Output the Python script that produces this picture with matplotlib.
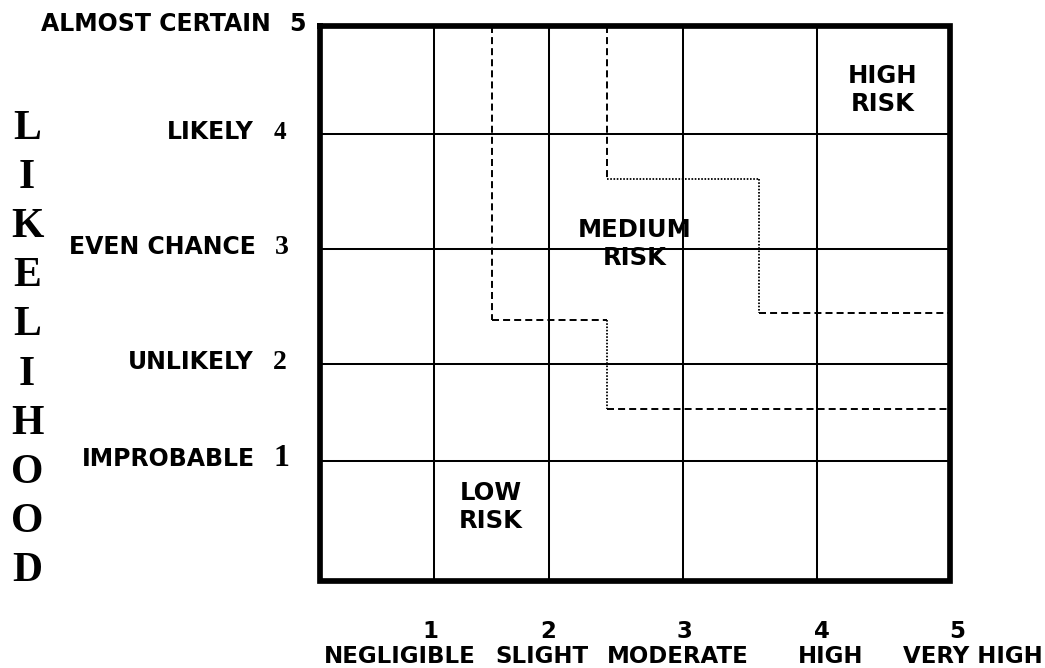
#!/usr/bin/env python3
"""Likelihood / impact risk matrix with low, medium and high risk zones."""

import matplotlib
matplotlib.use('Agg')
import matplotlib.pyplot as plt
import numpy as np

SANS = 'DejaVu Sans'
SERIF = 'Liberation Serif'

# matrix cell edges, drawn on a pixel canvas (x left->right, y top->bottom)
impact_edges = [320, 434, 549, 683, 817, 950]
likelihood_edges = [26, 134, 249, 364, 461, 581]

impact_levels = ['1', '2', '3', '4', '5']
impact_names = ['NEGLIGIBLE', 'SLIGHT', 'MODERATE', 'HIGH', 'VERY HIGH']
impact_level_x = [430, 548, 684, 822, 957]
impact_name_x = [400, 542, 678, 831, 973]

# top to bottom, one per upper edge of each row
likelihood_names = ['ALMOST CERTAIN', 'LIKELY', 'EVEN CHANCE', 'UNLIKELY', 'IMPROBABLE']
likelihood_levels = ['5', '4', '3', '2', '1']
likelihood_level_x = [297, 280, 282, 280, 281]
likelihood_level_size = [17, 18, 20, 20, 23]

axis_title = 'LIKELIHOOD'

# risk zone boundaries: polyline vertices and the style of each segment
low_medium_x = [492, 492, 607, 607, 950]
low_medium_y = [26, 320, 320, 409, 409]
low_medium_styles = ['dash', 'dash', 'dot', 'dash']
medium_high_x = [607, 607, 759, 759, 950]
medium_high_y = [26, 179, 179, 313, 313]
medium_high_styles = ['dash', 'dot', 'dot', 'dash']

zone_labels = ['HIGH\nRISK', 'MEDIUM\nRISK', 'LOW\nRISK']
zone_x = [883, 635, 491]
zone_y = [90, 244, 507]

STYLES = {
    'dash': dict(linewidth=1.4, linestyle=(0, (3.6, 2.1))),
    'dot': dict(linewidth=1.3, linestyle=(0, (0.9, 0.9))),
}


def draw_boundary(ax, xs, ys, styles):
    for i, style in enumerate(styles):
        ax.plot(xs[i:i + 2], ys[i:i + 2], color='black',
                solid_capstyle='butt', dash_capstyle='butt', **STYLES[style])


def main():
    fig = plt.figure(figsize=(10.45, 6.68), dpi=100)
    ax = fig.add_axes([0, 0, 1, 1])
    ax.set_xlim(0, 1045)
    ax.set_ylim(668, 0)
    ax.axis('off')

    left, right = impact_edges[0], impact_edges[-1]
    top, bottom = likelihood_edges[0], likelihood_edges[-1]

    # inner grid
    ax.vlines(impact_edges[1:-1], top, bottom, color='black', linewidth=1.45)
    ax.hlines(likelihood_edges[1:-1], left, right, color='black', linewidth=1.45)

    draw_boundary(ax, low_medium_x, low_medium_y, low_medium_styles)
    draw_boundary(ax, medium_high_x, medium_high_y, medium_high_styles)

    # heavy outer frame
    ax.plot([left, right, right, left, left], [top, top, bottom, bottom, top],
            color='black', linewidth=4.1, solid_joinstyle='miter')

    for label, x, y in zip(zone_labels, zone_x, zone_y):
        ax.text(x, y, label, ha='center', va='center', family=SANS,
                fontweight='bold', fontsize=17.5, linespacing=1.25)

    # likelihood scale on the left
    for name, level, edge, lx, size in zip(likelihood_names, likelihood_levels,
                                           likelihood_edges[:-1], likelihood_level_x,
                                           likelihood_level_size):
        baseline = edge + 5
        ax.text(lx - 26, baseline, name, ha='right', va='baseline', family=SANS,
                fontweight='bold', fontsize=17)
        family = SANS if level == '5' else SERIF
        ax.text(lx, baseline, level, ha='center', va='baseline', family=family,
                fontweight='bold', fontsize=size)

    # impact scale along the bottom
    for level, name, nx, mx in zip(impact_levels, impact_names,
                                   impact_level_x, impact_name_x):
        ax.text(nx, 638, level, ha='center', va='baseline', family=SANS,
                fontweight='bold', fontsize=16.5)
        ax.text(mx, 663, name, ha='center', va='baseline', family=SANS,
                fontweight='bold', fontsize=16.5)

    for letter, y in zip(axis_title, np.linspace(129, 571, len(axis_title))):
        ax.text(27, y, letter, ha='center', va='center', family=SERIF,
                fontweight='bold', fontsize=30)

    fig.savefig('out.png', dpi=100)


if __name__ == '__main__':
    main()
